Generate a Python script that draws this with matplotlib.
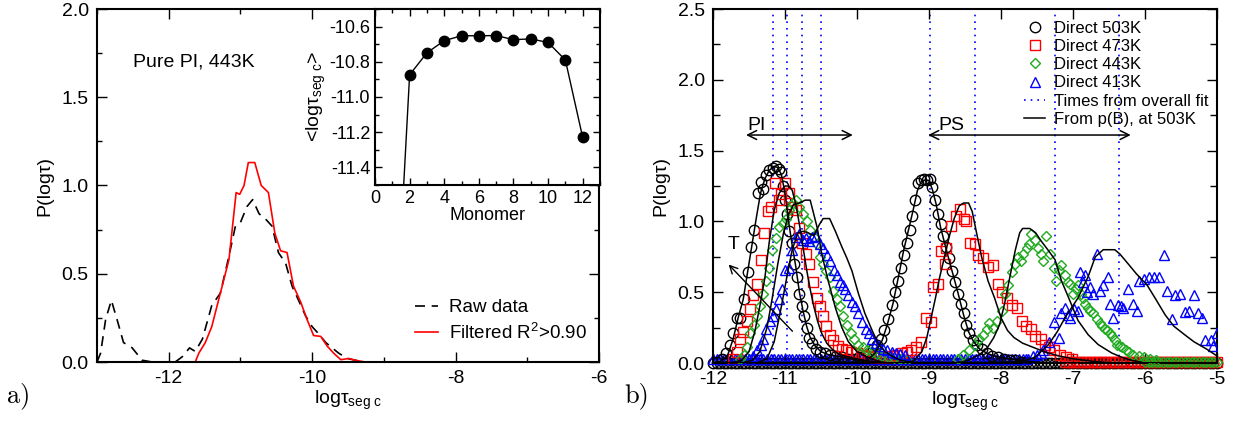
import numpy as np
import matplotlib
matplotlib.use("Agg")
import matplotlib.pyplot as plt
from matplotlib.ticker import MultipleLocator

plt.rcParams['font.family'] = ['Liberation Sans', 'DejaVu Sans']
plt.rcParams['mathtext.fontset'] = 'custom'
plt.rcParams['mathtext.rm'] = 'Liberation Sans'
plt.rcParams['mathtext.it'] = 'Liberation Sans:italic'
plt.rcParams['axes.unicode_minus'] = False
plt.rcParams['font.size'] = 14

# ---------------- panel a) data ----------------
raw_x = [-13.0, -12.95, -12.88, -12.80, -12.72, -12.63, -12.51, -12.37, -12.23, -11.91, -11.81,
         -11.71, -11.63, -11.53, -11.40, -11.28, -11.16, -11.07, -11.0, -10.91, -10.83, -10.74,
         -10.65, -10.56, -10.47, -10.37, -10.28, -10.19, -10.09, -10.0, -9.91, -9.81, -9.72,
         -9.63, -9.51, -9.40, -9.26, -6.0]
raw_y = [0.0, 0.05, 0.24, 0.35, 0.24, 0.11, 0.08, 0.01, 0.0, 0.0, 0.03,
         0.08, 0.06, 0.13, 0.32, 0.39, 0.60, 0.77, 0.79, 0.88, 0.92, 0.84,
         0.81, 0.77, 0.62, 0.56, 0.43, 0.35, 0.26, 0.20, 0.16, 0.11, 0.08,
         0.05, 0.02, 0.01, 0.0, 0.0]

filt_x = [-13.0, -11.63, -11.58, -11.49, -11.40, -11.28, -11.16, -11.06, -11.01, -10.95, -10.89,
          -10.80, -10.71, -10.61, -10.52, -10.44, -10.35, -10.26, -10.16, -10.07, -9.98, -9.88,
          -9.79, -9.70, -9.60, -9.49, -9.40, -9.26, -6.0]
filt_y = [0.0, 0.0, 0.05, 0.11, 0.20, 0.39, 0.58, 0.96, 0.95, 1.0, 1.13,
          1.13, 1.0, 0.96, 0.73, 0.63, 0.62, 0.43, 0.34, 0.24, 0.15, 0.145,
          0.09, 0.05, 0.013, 0.02, 0.01, 0.0, 0.0]

monomer = [1, 2, 3, 4, 5, 6, 7, 8, 9, 10, 11, 12]
mean_logtau = [-12.7, -10.874, -10.749, -10.68, -10.652, -10.652, -10.651, -10.674, -10.67,
               -10.69, -10.79, -11.23]

# ---------------- panel b) data ----------------
d503 = np.array([
    (-11.95, 0.01), (-11.88, 0.03), (-11.82, 0.07), (-11.77, 0.13), (-11.72, 0.21), (-11.67, 0.32),
    (-11.62, 0.32), (-11.57, 0.45), (-11.52, 0.64), (-11.47, 0.82), (-11.43, 0.94), (-11.38, 1.20),
    (-11.34, 1.28), (-11.30, 1.23), (-11.26, 1.33), (-11.22, 1.36), (-11.17, 1.38), (-11.13, 1.39),
    (-11.09, 1.37), (-11.06, 1.35), (-11.03, 1.25), (-11.00, 1.15), (-10.97, 1.05), (-10.94, 0.93),
    (-10.90, 0.85), (-10.87, 0.70), (-10.83, 0.61), (-10.80, 0.49), (-10.77, 0.40), (-10.73, 0.33),
    (-10.70, 0.25), (-10.66, 0.18), (-10.62, 0.14), (-10.57, 0.10), (-10.51, 0.08), (-10.44, 0.07),
    (-10.37, 0.06), (-10.29, 0.05), (-10.21, 0.04), (-10.13, 0.03), (-10.05, 0.03), (-9.97, 0.04),
    (-9.90, 0.05), (-9.84, 0.07), (-9.78, 0.10), (-9.72, 0.13), (-9.67, 0.17), (-9.62, 0.23),
    (-9.57, 0.31), (-9.52, 0.41), (-9.47, 0.50), (-9.43, 0.58), (-9.39, 0.67), (-9.35, 0.76),
    (-9.31, 0.85), (-9.27, 0.94), (-9.23, 1.04), (-9.19, 1.15), (-9.15, 1.27), (-9.11, 1.29),
    (-9.07, 1.30), (-9.03, 1.29), (-8.99, 1.30), (-8.96, 1.24), (-8.92, 1.15), (-8.88, 1.05),
    (-8.84, 0.98), (-8.80, 0.90), (-8.76, 0.82), (-8.72, 0.74), (-8.68, 0.65), (-8.64, 0.57),
    (-8.60, 0.49), (-8.56, 0.42), (-8.52, 0.35), (-8.48, 0.27), (-8.44, 0.21), (-8.39, 0.16),
    (-8.33, 0.13), (-8.27, 0.10), (-8.20, 0.07), (-8.12, 0.05), (-8.04, 0.045), (-7.96, 0.03),
    (-7.88, 0.02), (-7.80, 0.02), (-7.72, 0.01), (-7.64, 0.01)])

d473 = np.array([
    (-11.72, 0.03), (-11.67, 0.08), (-11.62, 0.17), (-11.58, 0.22), (-11.53, 0.30), (-11.48, 0.38),
    (-11.44, 0.48), (-11.39, 0.56), (-11.33, 0.73), (-11.29, 0.92), (-11.24, 1.07), (-11.19, 1.10),
    (-11.14, 1.27), (-11.09, 1.15), (-11.05, 1.19), (-11.00, 1.27), (-10.95, 1.20), (-10.90, 1.10),
    (-10.85, 1.08), (-10.80, 0.95), (-10.76, 0.85), (-10.71, 0.77), (-10.66, 0.70), (-10.61, 0.57),
    (-10.56, 0.46), (-10.52, 0.40), (-10.47, 0.33), (-10.43, 0.26), (-10.38, 0.20), (-10.33, 0.16),
    (-10.27, 0.12), (-10.21, 0.10), (-10.15, 0.09), (-10.08, 0.08), (-10.00, 0.07), (-9.92, 0.06),
    (-9.84, 0.05), (-9.76, 0.045), (-9.68, 0.04), (-9.60, 0.04), (-9.52, 0.05), (-9.45, 0.06),
    (-9.38, 0.07), (-9.31, 0.08), (-9.25, 0.09), (-9.18, 0.11), (-9.11, 0.15), (-9.04, 0.32),
    (-8.97, 0.29), (-8.94, 0.54), (-8.87, 0.56), (-8.83, 0.79), (-8.78, 0.70), (-8.76, 0.81),
    (-8.69, 0.97), (-8.63, 1.04), (-8.57, 1.09), (-8.52, 1.02), (-8.48, 1.00), (-8.43, 0.85),
    (-8.36, 0.84), (-8.32, 0.76), (-8.25, 0.74), (-8.18, 0.68), (-8.11, 0.69), (-8.04, 0.56),
    (-7.99, 0.50), (-7.92, 0.46), (-7.85, 0.41), (-7.78, 0.39), (-7.71, 0.30), (-7.65, 0.26),
    (-7.59, 0.24), (-7.53, 0.19), (-7.44, 0.17), (-7.39, 0.13), (-7.33, 0.11), (-7.27, 0.09),
    (-7.18, 0.06), (-7.10, 0.04), (-7.02, 0.03)])

d443 = np.array([
    (-11.62, 0.03), (-11.57, 0.06), (-11.53, 0.11), (-11.48, 0.21), (-11.43, 0.27), (-11.39, 0.33),
    (-11.35, 0.40), (-11.30, 0.49), (-11.26, 0.58), (-11.22, 0.67), (-11.18, 0.80), (-11.13, 0.88),
    (-11.08, 0.96), (-11.03, 0.99), (-10.99, 1.02), (-10.94, 1.08), (-10.89, 1.13), (-10.85, 1.15),
    (-10.80, 1.10), (-10.75, 1.05), (-10.70, 1.00), (-10.65, 0.94), (-10.60, 0.89), (-10.56, 0.84),
    (-10.52, 0.75), (-10.47, 0.70), (-10.43, 0.65), (-10.38, 0.61), (-10.33, 0.51), (-10.28, 0.45),
    (-10.24, 0.40), (-10.19, 0.33), (-10.14, 0.27), (-10.09, 0.21), (-10.04, 0.17), (-9.98, 0.13),
    (-9.92, 0.11), (-9.86, 0.09), (-9.79, 0.08), (-9.72, 0.065), (-9.65, 0.05), (-9.57, 0.04),
    (-9.49, 0.035), (-9.40, 0.03), (-9.30, 0.02),
    (-8.60, 0.03), (-8.53, 0.06), (-8.45, 0.09), (-8.36, 0.13), (-8.30, 0.17), (-8.25, 0.20),
    (-8.20, 0.24), (-8.16, 0.28), (-8.11, 0.25), (-8.06, 0.30), (-7.99, 0.37), (-7.94, 0.49),
    (-7.90, 0.55), (-7.85, 0.64), (-7.80, 0.70), (-7.76, 0.75), (-7.72, 0.72), (-7.69, 0.77),
    (-7.64, 0.81), (-7.61, 0.84), (-7.58, 0.91), (-7.53, 0.87), (-7.48, 0.81), (-7.44, 0.77),
    (-7.41, 0.72), (-7.37, 0.90), (-7.32, 0.77), (-7.27, 0.67), (-7.23, 0.58), (-7.19, 0.66),
    (-7.16, 0.69), (-7.11, 0.62), (-7.07, 0.57), (-7.04, 0.56), (-7.00, 0.49), (-6.96, 0.52),
    (-6.93, 0.55), (-6.89, 0.49), (-6.86, 0.46), (-6.83, 0.42), (-6.79, 0.39), (-6.76, 0.37),
    (-6.72, 0.35), (-6.67, 0.31), (-6.63, 0.28), (-6.60, 0.26), (-6.56, 0.24), (-6.53, 0.23),
    (-6.49, 0.21), (-6.46, 0.19), (-6.42, 0.16), (-6.39, 0.13), (-6.35, 0.12), (-6.32, 0.11),
    (-6.27, 0.09), (-6.22, 0.08), (-6.16, 0.06), (-6.09, 0.05), (-6.02, 0.04), (-5.93, 0.03),
    (-5.85, 0.02)])

d413 = np.array([
    (-11.50, 0.03), (-11.45, 0.05), (-11.39, 0.09), (-11.34, 0.13), (-11.30, 0.17), (-11.26, 0.24),
    (-11.21, 0.30), (-11.17, 0.33), (-11.13, 0.38), (-11.08, 0.45), (-11.04, 0.52), (-11.00, 0.66),
    (-10.95, 0.67), (-10.90, 0.80), (-10.85, 0.89), (-10.80, 0.91), (-10.75, 0.87), (-10.71, 0.88),
    (-10.66, 0.86), (-10.62, 0.89), (-10.57, 0.90), (-10.52, 0.84), (-10.47, 0.81), (-10.42, 0.76),
    (-10.37, 0.72), (-10.32, 0.66), (-10.28, 0.62), (-10.24, 0.57), (-10.20, 0.55), (-10.16, 0.52),
    (-10.12, 0.48), (-10.07, 0.43), (-10.03, 0.40), (-9.98, 0.35), (-9.93, 0.29), (-9.88, 0.24),
    (-9.84, 0.21), (-9.79, 0.17), (-9.74, 0.14), (-9.69, 0.12), (-9.64, 0.10), (-9.58, 0.09),
    (-9.52, 0.08), (-9.46, 0.07), (-9.40, 0.066), (-9.34, 0.06),
    (-7.62, 0.03), (-7.56, 0.05), (-7.50, 0.06), (-7.45, 0.07), (-7.41, 0.09), (-7.34, 0.15),
    (-7.27, 0.29), (-7.20, 0.18), (-7.16, 0.35), (-7.11, 0.39), (-7.07, 0.34), (-7.04, 0.32),
    (-6.98, 0.38), (-6.93, 0.37), (-6.90, 0.64), (-6.86, 0.57), (-6.83, 0.62), (-6.80, 0.50),
    (-6.76, 0.54), (-6.72, 0.49), (-6.67, 0.77), (-6.62, 0.51), (-6.58, 0.55), (-6.51, 0.61),
    (-6.48, 0.42), (-6.44, 0.32), (-6.37, 0.41), (-6.33, 0.40), (-6.30, 0.39), (-6.23, 0.52),
    (-6.16, 0.42), (-6.11, 0.37), (-6.09, 0.58), (-6.02, 0.59), (-5.95, 0.61), (-5.88, 0.61),
    (-5.81, 0.61), (-5.74, 0.76), (-5.70, 0.51), (-5.63, 0.31), (-5.58, 0.48), (-5.51, 0.49),
    (-5.44, 0.36), (-5.39, 0.37), (-5.32, 0.48), (-5.26, 0.35), (-5.21, 0.32), (-5.16, 0.16),
    (-5.09, 0.16), (-5.05, 0.12), (-5.00, 0.21)])

# visible stretches of the zero rows (x from, x to, level)
base503 = (-12.0, -5.0, 0.0)
base473 = (-7.1, -5.0, 0.01)
base443 = (-6.0, -5.0, 0.01)
base413 = (-12.0, -7.65, 0.025)

# "From p(B), at 503K" curves
pi_a = np.array([(-12.0, 0), (-11.9, 0.01), (-11.8, 0.05), (-11.72, 0.17), (-11.65, 0.32), (-11.58, 0.45),
                 (-11.52, 0.64), (-11.46, 0.83), (-11.40, 1.02), (-11.34, 1.2), (-11.28, 1.3), (-11.22, 1.36),
                 (-11.15, 1.39), (-11.10, 1.38), (-11.05, 1.33), (-11.0, 1.2), (-10.95, 1.0), (-10.9, 0.83),
                 (-10.85, 0.68), (-10.8, 0.5), (-10.75, 0.37), (-10.7, 0.26), (-10.65, 0.18), (-10.58, 0.12),
                 (-10.5, 0.08), (-10.4, 0.06), (-10.3, 0.05), (-10.2, 0.04), (-10.0, 0.02), (-9.8, 0.01),
                 (-9.6, 0), (-5.0, 0)])
pi_b = np.array([(-12.0, 0), (-11.75, 0), (-11.6, 0.02), (-11.5, 0.08), (-11.42, 0.22), (-11.35, 0.4),
                 (-11.28, 0.6), (-11.22, 0.85), (-11.15, 1.08), (-11.08, 1.2), (-11.0, 1.25), (-10.95, 1.25),
                 (-10.9, 1.22), (-10.85, 1.12), (-10.8, 0.98), (-10.75, 0.82), (-10.7, 0.66), (-10.65, 0.52),
                 (-10.6, 0.40), (-10.55, 0.30), (-10.5, 0.22), (-10.42, 0.14), (-10.35, 0.1), (-10.25, 0.06),
                 (-10.1, 0.04), (-9.9, 0.02), (-9.7, 0), (-5.0, 0)])
pi_c = np.array([(-12.0, 0), (-11.6, 0), (-11.45, 0.02), (-11.35, 0.08), (-11.25, 0.25), (-11.18, 0.45),
                 (-11.1, 0.7), (-11.02, 0.92), (-10.95, 1.05), (-10.88, 1.12), (-10.8, 1.13), (-10.72, 1.15),
                 (-10.65, 1.15), (-10.6, 1.05), (-10.55, 0.95), (-10.49, 0.77), (-10.4, 0.58), (-10.3, 0.39),
                 (-10.21, 0.25), (-10.12, 0.15), (-10.0, 0.08), (-9.89, 0.05), (-9.75, 0.02), (-9.6, 0),
                 (-5.0, 0)])
pi_d = np.array([(-12.0, 0), (-11.4, 0), (-11.25, 0.03), (-11.15, 0.15), (-11.05, 0.4), (-10.97, 0.62),
                 (-10.9, 0.8), (-10.82, 0.92), (-10.75, 0.93), (-10.68, 0.92), (-10.6, 0.9), (-10.52, 0.98),
                 (-10.47, 1.02), (-10.38, 1.02), (-10.3, 0.93), (-10.21, 0.82), (-10.14, 0.74), (-10.07, 0.65),
                 (-9.98, 0.49), (-9.89, 0.35), (-9.79, 0.23), (-9.7, 0.13), (-9.61, 0.08), (-9.52, 0.05),
                 (-9.4, 0.02), (-9.2, 0), (-5.0, 0)])
ps_a = np.array([(-12.0, 0), (-10.0, 0), (-9.85, 0.02), (-9.75, 0.07), (-9.65, 0.16), (-9.58, 0.27),
                 (-9.5, 0.42), (-9.42, 0.62), (-9.35, 0.8), (-9.28, 0.95), (-9.22, 1.08), (-9.16, 1.22),
                 (-9.1, 1.29), (-9.0, 1.29), (-8.95, 1.22), (-8.9, 1.12), (-8.84, 0.96), (-8.76, 0.8),
                 (-8.68, 0.65), (-8.6, 0.5), (-8.52, 0.34), (-8.45, 0.22), (-8.38, 0.15), (-8.3, 0.1),
                 (-8.2, 0.07), (-8.1, 0.05), (-7.9, 0.03), (-7.6, 0.01), (-7.3, 0), (-5.0, 0)])
ps_b = np.array([(-12.0, 0), (-9.3, 0), (-9.2, 0.02), (-9.1, 0.08), (-9.03, 0.18), (-8.97, 0.32),
                 (-8.91, 0.46), (-8.85, 0.61), (-8.78, 0.76), (-8.72, 0.89), (-8.65, 1.02), (-8.58, 1.11),
                 (-8.52, 1.13), (-8.45, 1.13), (-8.4, 1.07), (-8.34, 0.92), (-8.27, 0.75), (-8.18, 0.58),
                 (-8.09, 0.46), (-8.0, 0.32), (-7.91, 0.23), (-7.82, 0.18), (-7.7, 0.14), (-7.55, 0.11),
                 (-7.4, 0.08), (-7.2, 0.05), (-7.0, 0.03), (-6.7, 0.01), (-6.4, 0), (-5.0, 0)])
ps_c = np.array([(-12.0, 0), (-8.6, 0), (-8.45, 0.02), (-8.3, 0.06), (-8.2, 0.1), (-8.1, 0.18),
                 (-8.02, 0.27), (-7.95, 0.42), (-7.88, 0.6), (-7.8, 0.8), (-7.74, 0.92), (-7.7, 0.95),
                 (-7.6, 0.95), (-7.52, 0.92), (-7.44, 0.86), (-7.35, 0.8), (-7.25, 0.73), (-7.16, 0.58),
                 (-7.06, 0.46), (-6.93, 0.30), (-6.79, 0.20), (-6.65, 0.13), (-6.46, 0.07), (-6.32, 0.04),
                 (-6.2, 0.02), (-6.0, 0), (-5.0, 0)])
ps_d = np.array([(-12.0, 0), (-8.0, 0), (-7.8, 0.01), (-7.65, 0.02), (-7.53, 0.04), (-7.34, 0.13),
                 (-7.22, 0.22), (-7.11, 0.32), (-6.93, 0.46), (-6.79, 0.61), (-6.69, 0.75), (-6.58, 0.80),
                 (-6.5, 0.8), (-6.42, 0.8), (-6.35, 0.77), (-6.25, 0.71), (-6.12, 0.63), (-5.97, 0.55),
                 (-5.85, 0.45), (-5.72, 0.34), (-5.6, 0.26), (-5.45, 0.2), (-5.32, 0.15), (-5.15, 0.1),
                 (-5.0, 0.05)])

fit_times = [-11.16, -10.97, -10.77, -10.50, -8.98, -8.36, -7.25, -6.36]

fig = plt.figure(figsize=(12.34, 4.23), dpi=100)


def style_axes(ax):
    ax.tick_params(which='both', direction='in', top=True, right=True, width=1)
    ax.tick_params(which='major', length=7)
    ax.tick_params(which='minor', length=3.5)
    for s in ax.spines.values():
        s.set_linewidth(1.5)


# ---------------- a) ----------------
ax1 = fig.add_axes([97 / 1234, 61 / 423, 502 / 1234, 353 / 423])
ax1.plot(raw_x, raw_y, color='black', ls=(0, (6, 4)), lw=1.2, label='Raw data')
ax1.plot(filt_x, filt_y, color='red', lw=1.2, label='Filtered R$^2$>0.90')
ax1.set_xlim(-13, -6)
ax1.set_ylim(0, 2.0)
ax1.xaxis.set_major_locator(MultipleLocator(2))
ax1.xaxis.set_minor_locator(MultipleLocator(1))
ax1.yaxis.set_major_locator(MultipleLocator(0.5))
ax1.yaxis.set_minor_locator(MultipleLocator(0.25))
ax1.yaxis.set_major_formatter(matplotlib.ticker.FormatStrFormatter('%.1f'))
style_axes(ax1)
ax1.tick_params(which='major', pad=6)
ax1.set_xlabel('logτ$_{\\rm seg\\ c}$', labelpad=1)
ax1.set_ylabel('P(logτ)', labelpad=6)
ax1.text(-12.5, 1.70, 'Pure PI, 443K', va='center', fontsize=14)
ax1.legend(loc='upper left', bbox_to_anchor=(0.615, 0.205), frameon=False, borderpad=0,
           handlelength=1.2, handletextpad=0.6, labelspacing=0.35, fontsize=13.5)

# inset
axin = fig.add_axes([375 / 1234, 238 / 423, 225 / 1234, 176 / 423])
axin.plot(monomer, mean_logtau, color='black', lw=1, marker='o', ms=7.5)
axin.set_xlim(0, 13)
axin.set_ylim(-11.5, -10.5)
axin.xaxis.set_major_locator(MultipleLocator(2))
axin.xaxis.set_minor_locator(MultipleLocator(1))
axin.yaxis.set_major_locator(MultipleLocator(0.2))
axin.yaxis.set_minor_locator(MultipleLocator(0.1))
style_axes(axin)
axin.tick_params(which='major', length=5, labelsize=13)
axin.tick_params(which='minor', length=3)
axin.set_xlabel('Monomer', labelpad=0, fontsize=13)
axin.set_ylabel('<logτ$_{\\rm seg\\ c}$>', labelpad=1, fontsize=14)

# ---------------- b) ----------------
ax2 = fig.add_axes([713 / 1234, 60 / 423, 504 / 1234, 354 / 423])
for xv in fit_times:
    ax2.axvline(xv, color='blue', ls=(0, (1, 3)), lw=1.2, zorder=1)

bins = np.round(np.arange(-12.0, -4.99, 0.05), 2)
series = [
    (d503, base503, 'o', 'black', 7.5, 'Direct 503K'),
    (d473, base473, 's', 'red', 7.0, 'Direct 473K'),
    (d443, base443, 'D', '#1faa1f', 5.0, 'Direct 443K'),
    (d413, base413, '^', 'blue', 7.5, 'Direct 413K'),
]
for d, base, mk, col, ms, lab in series:
    bx = bins[(bins >= base[0]) & (bins <= base[1])]
    ax2.plot(bx, np.full(len(bx), base[2]), ls='none', marker=mk, ms=ms, mfc='none',
             mec=col, mew=1.0, clip_on=False, zorder=2)
for d, base, mk, col, ms, lab in series:
    ax2.plot(d[:, 0], d[:, 1], ls='none', marker=mk, ms=ms, mfc='none', mec=col, mew=1.0,
             label=lab, zorder=3)

ax2.plot([], [], color='blue', ls=(0, (1, 3)), lw=1.2, label='Times from overall fit')
for i, c in enumerate([pi_a, pi_b, pi_c, pi_d, ps_a, ps_b, ps_c, ps_d]):
    ax2.plot(c[:, 0], c[:, 1], color='black', lw=1.1, zorder=4,
             label='From p(B), at 503K' if i == 0 else None)

ax2.annotate('', xy=(-11.58, 1.61), xytext=(-10.02, 1.61),
             arrowprops=dict(arrowstyle='<->', color='black', lw=1.1, mutation_scale=16))
ax2.annotate('', xy=(-9.05, 1.61), xytext=(-6.16, 1.61),
             arrowprops=dict(arrowstyle='<->', color='black', lw=1.1, mutation_scale=16))
ax2.text(-11.39, 1.62, 'PI', ha='center', va='bottom', fontsize=14)
ax2.text(-8.69, 1.62, 'PS', ha='center', va='bottom', fontsize=14)
ax2.annotate('', xy=(-11.81, 0.71), xytext=(-10.87, 0.21),
             arrowprops=dict(arrowstyle='->', color='black', lw=1.0, mutation_scale=14))
ax2.text(-11.72, 0.78, 'T', ha='center', va='bottom', fontsize=14)

ax2.set_xlim(-12, -5)
ax2.set_ylim(0, 2.5)
ax2.xaxis.set_major_locator(MultipleLocator(1))
ax2.yaxis.set_major_locator(MultipleLocator(0.5))
ax2.yaxis.set_minor_locator(MultipleLocator(0.25))
ax2.yaxis.set_major_formatter(matplotlib.ticker.FormatStrFormatter('%.1f'))
style_axes(ax2)
ax2.tick_params(which='major', pad=6)
ax2.tick_params(which='minor', length=5)
ax2.set_xlabel('logτ$_{\\rm seg\\ c}$', labelpad=1)
ax2.set_ylabel('P(logτ)', labelpad=6)
ax2.legend(loc='upper left', bbox_to_anchor=(0.6, 0.99), frameon=False, borderpad=0,
           handlelength=1.3, handletextpad=0.5, labelspacing=0.19, numpoints=1, fontsize=12)

fig.text(7 / 1234, 1 - 396 / 423, 'a)', fontname='cmr10', fontsize=19, va='center')
fig.text(624 / 1234, 1 - 396 / 423, 'b)', fontname='cmr10', fontsize=19, va='center')

fig.savefig('out.png', dpi=100)
